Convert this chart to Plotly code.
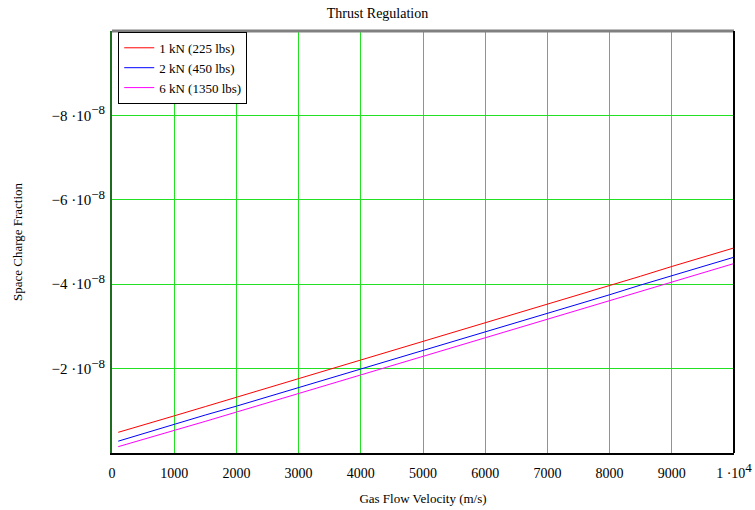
import plotly.graph_objects as go

velocity = [100, 500, 1000, 1500, 2000, 2500, 3000, 3500, 4000, 4500, 5000,
            5500, 6000, 6500, 7000, 7500, 8000, 8500, 9000, 9500, 10000]
frac_1kN = [-0.49, -0.67, -0.88, -1.10, -1.32, -1.54, -1.76, -1.98, -2.20, -2.43, -2.64,
            -2.86, -3.08, -3.30, -3.52, -3.75, -3.97, -4.19, -4.42, -4.64, -4.86]
frac_2kN = [-0.28, -0.46, -0.67, -0.90, -1.11, -1.33, -1.55, -1.77, -1.99, -2.21, -2.42,
            -2.65, -2.87, -3.09, -3.31, -3.53, -3.75, -3.98, -4.20, -4.41, -4.64]
frac_6kN = [-0.15, -0.32, -0.52, -0.75, -0.97, -1.19, -1.41, -1.63, -1.85, -2.07, -2.29,
            -2.51, -2.72, -2.94, -3.16, -3.39, -3.61, -3.83, -4.05, -4.27, -4.49]
series_names = ["1 kN (225 lbs)", "2 kN (450 lbs)", "6 kN (1350 lbs)"]
series_colors = ["#ff0000", "#0000ff", "#ff00ff"]

x_ticks = [0, 1000, 2000, 3000, 4000, 5000, 6000, 7000, 8000, 9000, 10000]
x_ticktext = ["0", "1000", "2000", "3000", "4000", "5000", "6000", "7000", "8000", "9000",
              "1 ·10<sup><span style='font-size:13px'>4</span></sup>"]
y_ticks = [-2e-8, -4e-8, -6e-8, -8e-8]
y_ticktext = ["−%d ·10<sup><span style='font-size:13px'>−8</span></sup>" % k for k in (2, 4, 6, 8)]

FONT = "Liberation Serif, Times New Roman, serif"

fig = go.Figure()
for name, vals, col in zip(series_names, [frac_1kN, frac_2kN, frac_6kN], series_colors):
    fig.add_trace(go.Scatter(x=velocity, y=[v * 1e-8 for v in vals], mode="lines",
                             name=name, line=dict(color=col, width=1)))

fig.update_layout(
    width=755, height=510,
    margin=dict(l=112, r=21, t=31, b=57),
    paper_bgcolor="white", plot_bgcolor="white",
    font=dict(family=FONT, size=13, color="black"),
    title=dict(text="Thrust Regulation", x=0.5, xanchor="center", y=0.983, yanchor="top",
               font=dict(family=FONT, size=14, color="black")),
    showlegend=True,
    legend=dict(x=0.01, y=0.998, xanchor="left", yanchor="top",
                bordercolor="black", borderwidth=1, bgcolor="white",
                font=dict(family=FONT, size=13), tracegroupgap=0, itemwidth=30),
    xaxis=dict(range=[0, 10000], tickvals=x_ticks, ticktext=x_ticktext,
               showgrid=True, gridcolor="#22e022", gridwidth=1, zeroline=False,
               showline=True, linecolor="black", linewidth=2, ticks="",
               ticklabelstandoff=6, automargin=False,
               tickfont=dict(family=FONT, size=14),
               title=dict(text="Gas Flow Velocity (m/s)", font=dict(family=FONT, size=13),
                          standoff=14)),
    yaxis=dict(range=[0, -1e-7], tickvals=y_ticks, ticktext=y_ticktext,
               showgrid=True, gridcolor="#22e022", gridwidth=1, zeroline=False,
               showline=True, linecolor="#1f6b1f", linewidth=2, ticks="",
               automargin=False, ticklabelstandoff=2,
               tickfont=dict(family=FONT, size=15),
               title=dict(text="Space Charge Fraction", font=dict(family=FONT, size=13),
                          standoff=26)),
    shapes=[
        dict(type="line", xref="paper", yref="paper", x0=0, x1=1, y0=1, y1=1,
             line=dict(color="#808080", width=3)),
        dict(type="line", xref="paper", yref="paper", x0=1, x1=1, y0=0, y1=1,
             line=dict(color="black", width=2)),
    ],
)

fig.write_html("out.html")
